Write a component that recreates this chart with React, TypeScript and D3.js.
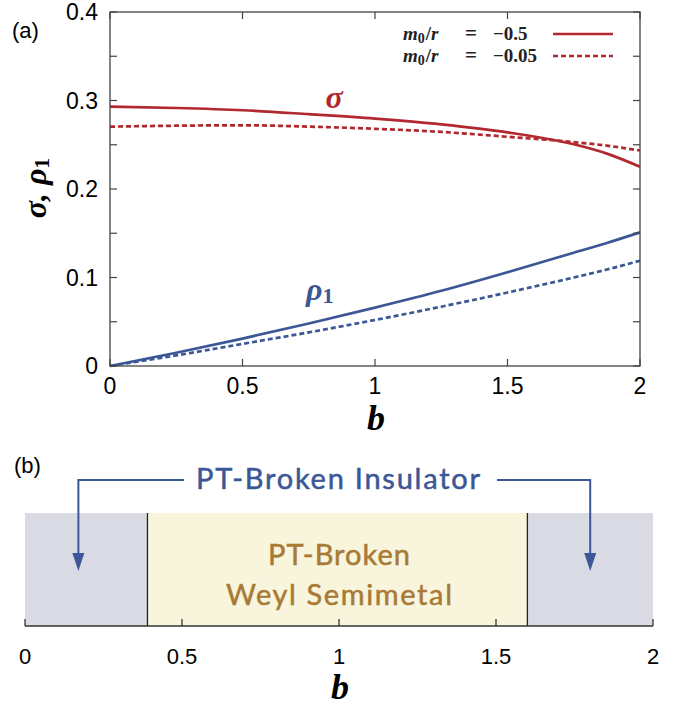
import React, { useEffect, useRef } from "react";
import * as d3 from "d3";

// ---------- data ----------
const bValues = [0, 0.25, 0.5, 0.75, 1.0, 1.25, 1.5, 1.75, 1.875, 2.0];
const sigmaSolid = [0.293, 0.2915, 0.289, 0.2845, 0.2795, 0.273, 0.264, 0.2505, 0.24, 0.2252];
const sigmaDashed = [0.2705, 0.2715, 0.272, 0.2705, 0.268, 0.2645, 0.259, 0.253, 0.249, 0.2435];
const rhoSolid = [0, 0.015, 0.031, 0.048, 0.066, 0.085, 0.106, 0.128, 0.139, 0.151];
const rhoDashed = [0, 0.012, 0.025, 0.038, 0.052, 0.067, 0.083, 0.1, 0.109, 0.119];
const legendLabels = ["\u22120.5", "\u22120.05"];
const xTicks = [0, 0.5, 1, 1.5, 2];
const yTicks = [0, 0.1, 0.2, 0.3, 0.4];
const phaseBoundaries = [0.39, 1.6];

const RED = "#b1282e";
const BLUE = "#3b5796";
const GOLD = "#a87a36";

export default function App() {
  const ref = useRef<SVGSVGElement>(null);

  useEffect(() => {
    const svg = d3.select(ref.current);
    svg.selectAll("*").remove();

    const sans = "'Liberation Sans', Arial, sans-serif";
    const serif = "'Liberation Serif', 'DejaVu Serif', serif";
    const labFont = "Lato, 'Open Sans', sans-serif";

    // ---------- panel (a) ----------
    const x = d3.scaleLinear().domain([0, 2]).range([110, 640]);
    const y = d3.scaleLinear().domain([0, 0.4]).range([366, 12]);
    const g = svg.append("g");

    const line = (vals: number[]) =>
      d3
        .line<number>()
        .x((_, i) => x(bValues[i]))
        .y((v) => y(v))
        .curve(d3.curveMonotoneX)(vals);

    const series = [
      { v: sigmaSolid, c: RED, dash: null },
      { v: sigmaDashed, c: RED, dash: "5,3" },
      { v: rhoSolid, c: BLUE, dash: null },
      { v: rhoDashed, c: BLUE, dash: "5,3" },
    ];
    series.forEach((s) => {
      g.append("path")
        .attr("d", line(s.v) as string)
        .attr("fill", "none")
        .attr("stroke", s.c)
        .attr("stroke-width", 2.7)
        .attr("stroke-dasharray", s.dash as any);
    });

    g.append("rect")
      .attr("x", 110)
      .attr("y", 12)
      .attr("width", 530)
      .attr("height", 354)
      .attr("fill", "none")
      .attr("stroke", "#444")
      .attr("stroke-width", 1.3);

    const yMinor = d3.range(0, 0.4001, 0.05);
    yMinor.forEach((t) => {
      [
        [110, 117],
        [640, 633],
      ].forEach(([a, b2]) =>
        g.append("line")
          .attr("x1", a)
          .attr("x2", b2)
          .attr("y1", y(t))
          .attr("y2", y(t))
          .attr("stroke", "#444")
          .attr("stroke-width", 1.2)
      );
    });
    xTicks.forEach((t) => {
      [
        [366, 359],
        [12, 19],
      ].forEach(([a, b2]) =>
        g.append("line")
          .attr("x1", x(t))
          .attr("x2", x(t))
          .attr("y1", a)
          .attr("y2", b2)
          .attr("stroke", "#444")
          .attr("stroke-width", 1.2)
      );
    });

    yTicks.forEach((t) => {
      g.append("text")
        .attr("x", 98)
        .attr("y", y(t))
        .attr("dy", "0.36em")
        .attr("text-anchor", "end")
        .attr("font-family", sans)
        .attr("font-size", 23)
        .text(String(t));
    });
    xTicks.forEach((t) => {
      g.append("text")
        .attr("x", x(t))
        .attr("y", 394)
        .attr("text-anchor", "middle")
        .attr("font-family", sans)
        .attr("font-size", 23)
        .text(String(t));
    });

    g.append("text")
      .attr("x", 376)
      .attr("y", 430)
      .attr("text-anchor", "middle")
      .attr("font-family", serif)
      .attr("font-style", "italic")
      .attr("font-weight", "bold")
      .attr("font-size", 36)
      .text("b");

    const yl = g.append("text")
      .attr("transform", "translate(46,188) rotate(-90)")
      .attr("text-anchor", "middle")
      .attr("font-family", serif)
      .attr("font-style", "italic")
      .attr("font-weight", "bold")
      .attr("font-size", 32);
    yl.append("tspan").text("\u03c3, \u03c1");
    yl.append("tspan").attr("font-style", "normal").attr("font-size", 22).attr("dy", 3).text("1");

    g.append("text")
      .attr("x", 12)
      .attr("y", 38)
      .attr("font-family", sans)
      .attr("font-size", 22)
      .text("(a)");

    g.append("text")
      .attr("x", 334)
      .attr("y", 108)
      .attr("text-anchor", "middle")
      .attr("fill", RED)
      .attr("font-family", serif)
      .attr("font-style", "italic")
      .attr("font-weight", "bold")
      .attr("font-size", 32)
      .text("\u03c3");
    const rl = g.append("text")
      .attr("x", 306)
      .attr("y", 300)
      .attr("fill", BLUE)
      .attr("font-family", serif)
      .attr("font-style", "italic")
      .attr("font-weight", "bold")
      .attr("font-size", 32);
    rl.append("tspan").text("\u03c1");
    rl.append("tspan").attr("font-style", "normal").attr("font-size", 22).attr("dy", 3).text("1");

    // legend
    legendLabels.forEach((lab, i) => {
      const ly = 34 + i * 22;
      const t = g.append("text")
        .attr("y", ly + 6)
        .attr("font-family", serif)
        .attr("font-weight", "bold")
        .attr("font-size", 19)
        .attr("fill", "#222");
      t.append("tspan").attr("x", 403).attr("font-style", "italic").text("m");
      t.append("tspan").attr("font-size", 14).attr("dy", 3).text("0");
      t.append("tspan").attr("dx", 1).attr("dy", -3).text("/");
      t.append("tspan").attr("font-style", "italic").text("r");
      t.append("tspan").attr("x", 465).attr("font-size", 21).text("=");
      t.append("tspan").attr("x", 493).text(lab);
      g.append("line")
        .attr("x1", 553)
        .attr("x2", 613)
        .attr("y1", ly)
        .attr("y2", ly)
        .attr("stroke", RED)
        .attr("stroke-width", 2.7)
        .attr("stroke-dasharray", i === 1 ? "5,3" : null);
    });

    // ---------- panel (b) ----------
    const xb = d3.scaleLinear().domain([0, 2]).range([25, 653]);
    const top = 513;
    const axisY = 626;
    const gb = svg.append("g");
    const regions = [
      [0, phaseBoundaries[0], "#d9dae3"],
      [phaseBoundaries[0], phaseBoundaries[1], "#f8f5dc"],
      [phaseBoundaries[1], 2, "#d9dae3"],
    ] as [number, number, string][];
    regions.forEach(([a, b2, c]) =>
      gb.append("rect")
        .attr("x", xb(a))
        .attr("y", top)
        .attr("width", xb(b2) - xb(a))
        .attr("height", axisY - top)
        .attr("fill", c)
    );
    phaseBoundaries.forEach((p) =>
      gb.append("line")
        .attr("x1", xb(p))
        .attr("x2", xb(p))
        .attr("y1", top)
        .attr("y2", axisY)
        .attr("stroke", "#222")
        .attr("stroke-width", 1.3)
    );
    gb.append("line")
      .attr("x1", xb(0))
      .attr("x2", xb(2))
      .attr("y1", axisY)
      .attr("y2", axisY)
      .attr("stroke", "#333")
      .attr("stroke-width", 1.5);
    xTicks.forEach((t) => {
      gb.append("line")
        .attr("x1", xb(t))
        .attr("x2", xb(t))
        .attr("y1", axisY)
        .attr("y2", axisY - 7)
        .attr("stroke", "#333")
        .attr("stroke-width", 1.3);
      gb.append("text")
        .attr("x", xb(t))
        .attr("y", 664)
        .attr("text-anchor", "middle")
        .attr("font-family", sans)
        .attr("font-size", 22)
        .text(String(t));
    });
    gb.append("text")
      .attr("x", 340)
      .attr("y", 699)
      .attr("text-anchor", "middle")
      .attr("font-family", serif)
      .attr("font-style", "italic")
      .attr("font-weight", "bold")
      .attr("font-size", 36)
      .text("b");
    gb.append("text")
      .attr("x", 14)
      .attr("y", 473)
      .attr("font-family", sans)
      .attr("font-size", 22)
      .text("(b)");

    gb.append("text")
      .attr("x", 338)
      .attr("y", 489)
      .attr("text-anchor", "middle")
      .attr("fill", BLUE)
      .attr("stroke", BLUE)
      .attr("stroke-width", 0.5)
      .attr("font-family", labFont)
      .attr("font-size", 29)
      .attr("textLength", 284)
      .attr("lengthAdjust", "spacing")
      .text("PT-Broken Insulator");
    gb.append("text")
      .attr("x", 339)
      .attr("y", 565)
      .attr("text-anchor", "middle")
      .attr("fill", GOLD)
      .attr("stroke", GOLD)
      .attr("stroke-width", 0.5)
      .attr("font-family", labFont)
      .attr("font-size", 29)
      .attr("textLength", 142)
      .attr("lengthAdjust", "spacing")
      .text("PT-Broken");
    gb.append("text")
      .attr("x", 339)
      .attr("y", 605)
      .attr("text-anchor", "middle")
      .attr("fill", GOLD)
      .attr("stroke", GOLD)
      .attr("stroke-width", 0.5)
      .attr("font-family", labFont)
      .attr("font-size", 29)
      .attr("textLength", 226)
      .attr("lengthAdjust", "spacing")
      .text("Weyl Semimetal");

    const arrowY = 480;
    const arrows = [
      { from: 184, to: xb(0.17) },
      { from: 497, to: xb(1.8) },
    ];
    arrows.forEach((a) => {
      gb.append("path")
        .attr("d", `M${a.from},${arrowY} H${a.to} V556`)
        .attr("fill", "none")
        .attr("stroke", BLUE)
        .attr("stroke-width", 2);
      gb.append("path")
        .attr("d", `M${a.to - 6},553 L${a.to + 6},553 L${a.to},571 Z`)
        .attr("fill", BLUE);
    });
  }, []);

  return (
    <svg
      ref={ref}
      width={686}
      height={707}
      style={{ position: "absolute", left: 0, top: 0, background: "#fff" }}
    />
  );
}
